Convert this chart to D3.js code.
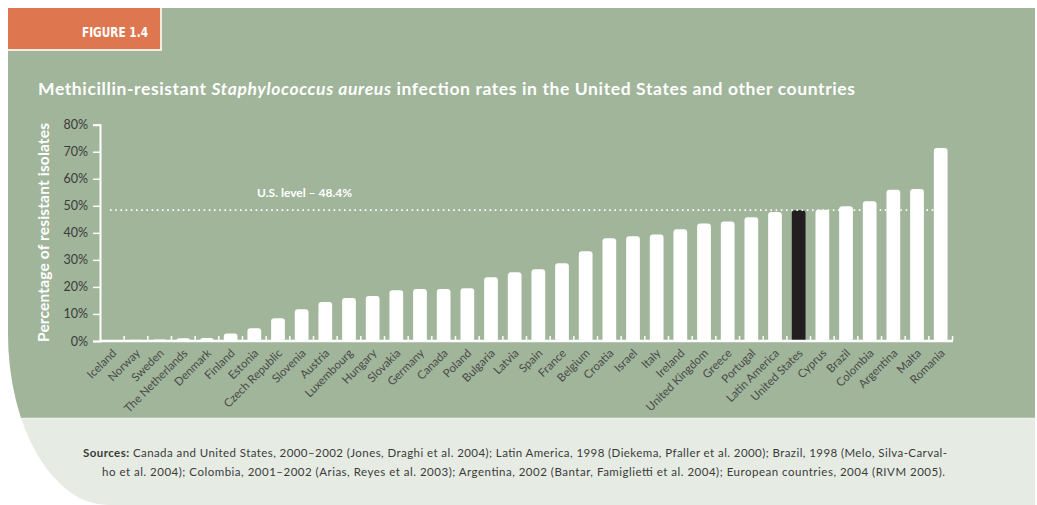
<!DOCTYPE html>
<html><head><meta charset="utf-8">
<script src="https://cdn.jsdelivr.net/npm/d3@7"></script>
<style>
html,body{margin:0;padding:0;background:#fff;}
svg{display:block;}
</style></head>
<body>
<svg id="chart" width="1037" height="505"></svg>
<script>
const categories = ["Iceland","Norway","Sweden","The Netherlands","Denmark","Finland","Estonia","Czech Republic","Slovenia","Austria","Luxembourg","Hungary","Slovakia","Germany","Canada","Poland","Bulgaria","Latvia","Spain","France","Belgium","Croatia","Israel","Italy","Ireland","United Kingdom","Greece","Portugal","Latin America","United States","Cyprus","Brazil","Colombia","Argentina","Malta","Romania"];
const values = [0,0.5,0.6,1.0,1.1,2.8,4.7,8.4,11.7,14.4,15.9,16.6,18.8,19.2,19.2,19.5,23.6,25.4,26.5,28.8,33.2,38.0,38.7,39.4,41.3,43.5,44.2,45.8,47.7,48.4,48.5,49.8,51.7,55.9,56.2,71.4];
const yTicks = [0,10,20,30,40,50,60,70,80];
const usLevel = 48.4;
const highlight = "United States";
const title = ["Methicillin-resistant ", "Staphylococcus aureus", " infection rates in the United States and other countries"];
const figureLabel = "FIGURE 1.4";
const yLabel = "Percentage of resistant isolates";
const usLabel = "U.S. level \u2013 48.4%";
const sources = [
  ["Sources:", " Canada and United States, 2000\u20132002 (Jones, Draghi et al. 2004); Latin America, 1998 (Diekema, Pfaller et al. 2000); Brazil, 1998 (Melo, Silva-Carval-"],
  ["", "ho et al. 2004); Colombia, 2001\u20132002 (Arias, Reyes et al. 2003); Argentina, 2002 (Bantar, Famiglietti et al. 2004); European countries, 2004 (RIVM 2005)."]
];

const svg = d3.select("#chart");
const GREEN = "#a0b59a", LIGHT = "#e6ece4", ORANGE = "#de7650", DARK = "#3b3b3b";

// background shape with curved bottom-left corner
const shapePath = "M8,8 H1035 V505 H108 A100,172 0 0 1 8,333 Z";
svg.append("path").attr("d", shapePath).attr("fill", LIGHT);
svg.append("clipPath").attr("id","gclip").append("rect").attr("x",0).attr("y",0).attr("width",1037).attr("height",418);
svg.append("path").attr("d", shapePath).attr("fill", GREEN).attr("clip-path","url(#gclip)");
svg.append("line").attr("x1",22).attr("x2",1035).attr("y1",418.5).attr("y2",418.5).attr("stroke","#eef2ec").attr("stroke-width",1.5);

// figure tab
svg.append("rect").attr("x",8).attr("y",8).attr("width",154).attr("height",43).attr("fill","#f4ebe3");
svg.append("rect").attr("x",8).attr("y",8).attr("width",152).attr("height",41).attr("fill",ORANGE);
svg.append("text").attr("x",148).attr("y",37).attr("text-anchor","end")
  .attr("font-family","'Liberation Sans Narrow', 'DejaVu Sans Condensed', sans-serif").attr("font-weight","bold")
  .attr("font-size",14).attr("fill","#fff").attr("textLength",66).attr("lengthAdjust","spacingAndGlyphs").text(figureLabel);

// title
const t = svg.append("text").attr("x",38).attr("y",95).attr("font-family","Lato, 'Open Sans', sans-serif")
  .attr("font-weight","bold").attr("font-size",17.5).attr("fill","#fff").attr("textLength",817).attr("lengthAdjust","spacing");
t.append("tspan").text(title[0]);
t.append("tspan").attr("font-style","italic").text(title[1]);
t.append("tspan").text(title[2]);

// scales
const x = d3.scaleBand().domain(categories).range([100, 953]).paddingInner(0.42).paddingOuter(0.23);
const y = d3.scaleLinear().domain([0, 80]).range([341, 124.7]);

// y axis
const yAxis = d3.axisLeft(y).tickValues(yTicks).tickFormat(d => d + "%").tickSize(7).tickPadding(5);
const gy = svg.append("g").attr("transform","translate(100,0)").call(yAxis);
gy.select(".domain").attr("stroke","#fff").attr("stroke-width",2);
gy.selectAll(".tick line").attr("stroke","#fff").attr("stroke-width",1.5);
gy.selectAll(".tick text").attr("fill",DARK).attr("font-family","Lato, sans-serif").attr("font-size",12.5);

// y label
svg.append("text").attr("transform","translate(49,232.5) rotate(-90)").attr("text-anchor","middle")
  .attr("font-family","Lato, sans-serif").attr("font-weight","bold").attr("font-size",15.5).attr("fill","#fff")
  .attr("textLength",219).attr("lengthAdjust","spacing").text(yLabel);

// bars
const r = 3;
function barPath(d, i) {
  const x0 = x(d), w = x.bandwidth(), y0 = y(values[i]), y1 = y(0);
  const h = y1 - y0;
  if (h <= 0) return "";
  const rr = Math.min(r, h, w/2);
  return `M${x0},${y1} V${y0+rr} Q${x0},${y0} ${x0+rr},${y0} H${x0+w-rr} Q${x0+w},${y0} ${x0+w},${y0+rr} V${y1} Z`;
}
svg.append("g").selectAll("path").data(categories).join("path")
  .attr("d", (d,i) => barPath(d,i))
  .attr("fill", d => d === highlight ? "#231f20" : "#fff");

// x axis baseline and ticks
const step = x.step();
svg.append("line").attr("x1",100).attr("x2",953).attr("y1",y(0)).attr("y2",y(0)).attr("stroke","#fff").attr("stroke-width",2.5);
const tickPos = categories.map(c => x(c) + x.bandwidth() + (step - x.bandwidth())/2);
svg.append("g").selectAll("line").data(tickPos).join("line")
  .attr("x1", d=>d).attr("x2", d=>d).attr("y1", y(0)).attr("y2", y(0)-5).attr("stroke","#fff").attr("stroke-width",1.5);

// x labels
svg.append("g").selectAll("text").data(categories).join("text")
  .attr("transform", d => `translate(${x(d) + x.bandwidth()/2 + 2},${y(0) + 10}) rotate(-45)`)
  .attr("text-anchor","end").attr("dy","0.35em")
  .attr("font-family","Lato, sans-serif").attr("font-size",11.5).attr("fill","#4a4a4a").text(d => d);

// US level line
svg.append("line").attr("x1",110).attr("x2",934).attr("y1",y(usLevel)).attr("y2",y(usLevel))
  .attr("stroke","#fff").attr("stroke-width",1.6).attr("stroke-dasharray","1.6,3.6");
svg.append("text").attr("x",257).attr("y",y(usLevel)-13).attr("font-family","Lato, sans-serif")
  .attr("font-weight","bold").attr("font-size",12).attr("fill","#fff").text(usLabel);

// sources
const srcX = [83, 102], srcEnd = [947, 945], srcY = [457, 476];
sources.forEach((s, i) => {
  const tt = svg.append("text").attr("x", srcX[i]).attr("y", srcY[i]).attr("font-family","Lato, sans-serif")
    .attr("font-size",11.5).attr("fill","#3a3a3a").attr("textLength", srcEnd[i]-srcX[i]).attr("lengthAdjust","spacing");
  if (s[0]) tt.append("tspan").attr("font-weight","bold").text(s[0]);
  tt.append("tspan").text(s[1]);
});
</script>
</body></html>
